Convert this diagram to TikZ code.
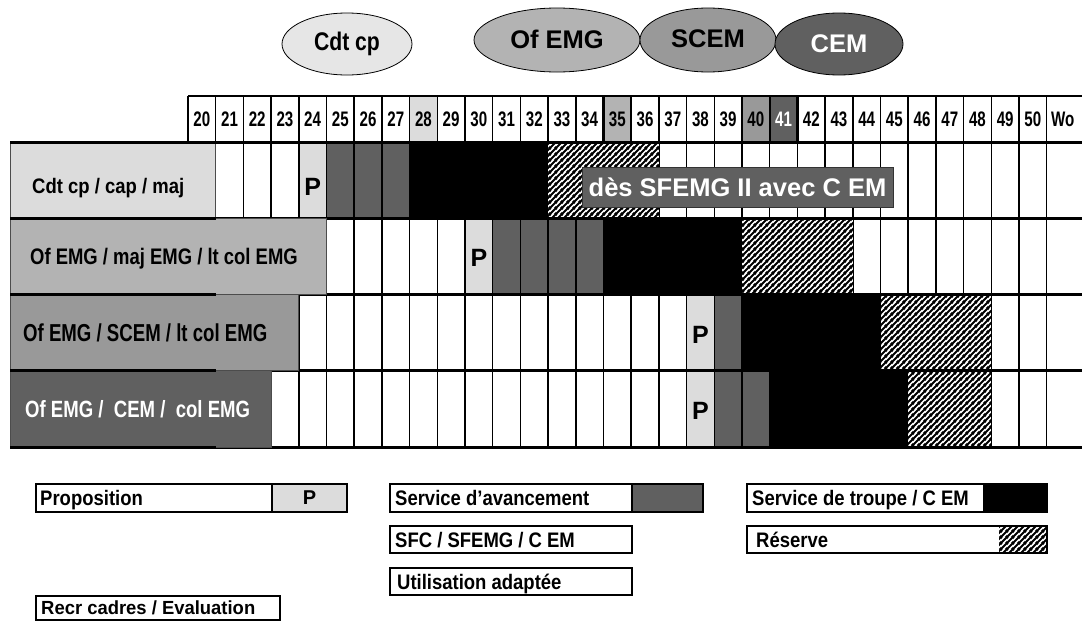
\documentclass[tikz,border=0pt]{standalone}
\usepackage{fontspec}
\setmainfont{Liberation Sans}
\usetikzlibrary{shapes.geometric,patterns.meta}
\definecolor{lg}{HTML}{DCDCDC}
\definecolor{eg}{HTML}{E6E6E6}
\definecolor{mg}{HTML}{B3B3B3}
\definecolor{sg}{HTML}{999999}
\definecolor{dg}{HTML}{606060}
\tikzdeclarepattern{
  name=hatch,
  type=uncolored,
  bottom left={(0pt,0pt)},
  top right={(5.5pt,5.5pt)},
  tile size={(5.5pt,5.5pt)},
  code={
    \draw[line width=2pt] (-1pt,-1pt) -- (6.5pt,6.5pt);
    \draw[line width=2pt] (-6.5pt,-1pt) -- (1pt,6.5pt);
    \draw[line width=2pt] (4.5pt,-1pt) -- (12pt,6.5pt);
  }
}
\newcommand\colx[1]{(188+(#1-20)*27.7)}
\newcommand\cellrun[5]{% first col, last col, top y, bottom y, style
  \path[#5] ({\colx{#1}},#3) rectangle ({\colx{#2+1}},#4);}
\newcommand\hs[2]{\scalebox{#1}[1]{#2}}
\newcommand\fs[1]{\fontsize{#1}{#1}\selectfont\bfseries}
\tikzset{
  ell/.style={ellipse, draw=black, line width=0.8pt, inner sep=0pt, font=\fs{25.5}},
  hdr/.style={font=\fs{21}, inner sep=0pt, anchor=base},
  rowlbl/.style={anchor=base west, inner sep=0pt},
  ptxt/.style={font=\fs{25}, inner sep=0pt, anchor=base},
  leg/.style={anchor=base west, font=\fs{21}, inner sep=0pt},
  gridln/.style={line width=1.5pt},
  rowln/.style={line width=3pt},
  legbox/.style={draw=black, line width=1.8pt},
  hatched/.style={pattern=hatch, pattern color=black},
}
\begin{document}
\begin{tikzpicture}[x=1pt,y=-1pt]
\useasboundingbox (0,0) rectangle (1082,621);
\fill[white] (0,0) rectangle (1082,621);

% ---- top ellipses
\node[ell, fill=eg, minimum width=130pt, minimum height=62pt] (ecdt) at (347,44) {\hs{0.83}{Cdt cp}};
\node[ell, fill=mg, minimum width=166pt, minimum height=64pt] (eofemg) at (557,40) {\raisebox{2pt}{Of EMG}};
\node[ell, fill=sg, minimum width=136pt, minimum height=64pt] (escem) at (708,40) {\raisebox{3pt}{SCEM}};
\node[ell, fill=dg, text=white, minimum width=128pt, minimum height=62pt] (ecem) at (839,44) {CEM};

% ---- header fills
\cellrun{28}{28}{96}{142}{fill=lg}
\cellrun{35}{35}{96}{142}{fill=mg}
\cellrun{40}{40}{96}{142}{fill=sg}
\cellrun{41}{41}{96}{142}{fill=dg}

% ---- row fills (under grid)
\cellrun{24}{24}{142}{218}{fill=lg}
\cellrun{25}{27}{142}{218}{fill=dg}
\cellrun{30}{30}{218}{294}{fill=lg}
\cellrun{31}{34}{218}{294}{fill=dg}
\cellrun{38}{38}{294}{370}{fill=lg}
\cellrun{39}{39}{294}{370}{fill=dg}
\cellrun{38}{38}{370}{447}{fill=lg}
\cellrun{39}{40}{370}{447}{fill=dg}

% ---- grid
\foreach \i in {20,...,51} \draw[gridln] ({\colx{\i}},96) -- ({\colx{\i}},447);
\draw[line width=2pt] ({\colx{20}},96) -- (1082,96);

% ---- black and reserve blocks (over grid)
\cellrun{28}{32}{142}{218}{fill=black}
\cellrun{33}{36}{142}{218}{fill=white}
\cellrun{33}{36}{142}{218}{hatched}
\cellrun{35}{39}{218}{294}{fill=black}
\cellrun{40}{43}{218}{294}{fill=white}
\cellrun{40}{43}{218}{294}{hatched}
\cellrun{40}{44}{294}{370}{fill=black}
\cellrun{45}{48}{294}{370}{fill=white}
\cellrun{45}{48}{294}{370}{hatched}
\cellrun{41}{45}{370}{447}{fill=black}
\cellrun{46}{48}{370}{447}{fill=white}
\cellrun{46}{48}{370}{447}{hatched}

% ---- row separators
\foreach \yy in {142,218,294,370,447} \draw[rowln] (10,\yy) -- (1082,\yy);

% ---- header highlighted borders
\cellrun{35}{35}{96}{142}{draw=black, line width=2.2pt}
\cellrun{41}{41}{96}{142}{draw=black, line width=2.2pt}

% ---- header numbers
\foreach \i in {20,...,50} {
  \ifnum\i=41
    \node[hdr, text=white] (h\i) at ({\colx{\i}+13.85},126.5) {\hs{0.72}{\i}};
  \else
    \node[hdr] (h\i) at ({\colx{\i}+13.85},126.5) {\hs{0.72}{\i}};
  \fi
}
\node[hdr, anchor=base west] (hwo) at (1051,126.5) {\hs{0.72}{Wo}};

% ---- row label boxes
\path[fill=lg, draw=black!70, line width=0.8pt] (10,142) rectangle ({\colx{21}},218);
\path[fill=mg, draw=black!70, line width=0.8pt] (10,218) rectangle ({\colx{25}},294);
\path[fill=sg, draw=black!70, line width=0.8pt] (10,294) rectangle ({\colx{24}},370);
\path[fill=dg, draw=black!70, line width=0.8pt] (10,370) rectangle ({\colx{23}},447);
\foreach \yy in {142,218,294,370,447} \draw[rowln] (10,\yy) -- ({\colx{21}},\yy);

\node[rowlbl, font=\fs{21}] (r1) at (32,193) {\hs{0.88}{Cdt cp / cap / maj}};
\node[rowlbl, font=\fs{22.5}] (r2) at (30,264) {\hs{0.82}{Of EMG / maj EMG / lt col EMG}};
\node[rowlbl, font=\fs{24.5}] (r3) at (23,341.5) {\hs{0.76}{Of EMG / SCEM / lt col EMG}};
\node[rowlbl, font=\fs{23.5}, text=white] (r4) at (25,417) {\hs{0.79}{Of EMG /\ \ CEM /\ \ col EMG}};

% ---- P marks
\node[ptxt] (p1) at ({\colx{24}+13.85},195) {P};
\node[ptxt] (p2) at ({\colx{30}+13.85},266) {P};
\node[ptxt] (p3) at ({\colx{38}+13.85},343) {P};
\node[ptxt] (p4) at ({\colx{38}+13.85},419) {P};

% ---- note box
\node[fill=dg, draw=black!80, line width=0.8pt, text=white, font=\fs{25.5},
      minimum width=311pt, minimum height=40pt, inner sep=0pt] (note) at (737.5,187) {dès SFEMG II avec C EM};

% ---- legend
\path[fill=lg] (272,484) rectangle (347,512);
\draw[legbox] (36,484) rectangle (347,512);
\draw[line width=1.8pt] (272,484) -- (272,512);
\node[leg] (lprop) at (40,505) {\hs{0.88}{Proposition}};
\node[font=\fs{20}, inner sep=0pt, anchor=base] (lp) at (309.5,504) {P};

\path[fill=dg] (632,484) rectangle (703,512);
\draw[legbox] (390,484) rectangle (703,512);
\draw[line width=1.8pt] (632,484) -- (632,512);
\node[leg] (lsa) at (395,505) {\hs{0.88}{Service d’avancement}};

\draw[legbox] (390,526) rectangle (632,553);
\node[leg] (lsfc) at (395,547) {\hs{0.88}{SFC / SFEMG / C EM}};

\draw[legbox] (390,568) rectangle (632,595);
\node[leg] (lua) at (397,589) {\hs{0.88}{Utilisation adaptée}};

\path[fill=black] (983,484) rectangle (1047,512);
\draw[legbox] (747,484) rectangle (1047,512);
\node[leg] (lst) at (752,505) {\hs{0.88}{Service de troupe / C EM}};

\path[fill=white] (999,526) rectangle (1047,553);
\path[hatched] (999,526) rectangle (1047,553);
\draw[legbox] (747,526) rectangle (1047,553);
\node[leg] (lres) at (756,547) {\hs{0.88}{Réserve}};

\draw[legbox] (36,596) rectangle (280,620);
\node[leg, font=\fs{19}] (lrecr) at (41,614) {\hs{0.97}{Recr cadres / Evaluation}};
\end{tikzpicture}
\end{document}
